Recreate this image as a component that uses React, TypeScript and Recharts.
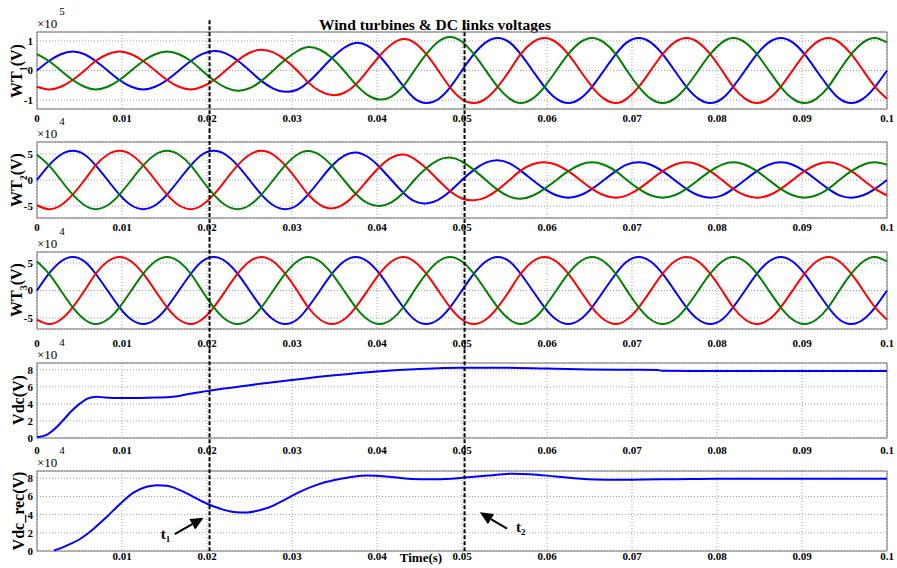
import React from 'react';
import { LineChart, Line, XAxis, YAxis, CartesianGrid, ReferenceLine, ReferenceArea } from 'recharts';

// time base for the three-phase turbine voltages (s)
const time = [
  0, 0.0014, 0.0028, 0.0042, 0.0056, 0.0069, 0.0083, 0.0097, 0.0111, 0.0125, 0.0139, 0.0153,
  0.0167, 0.0181, 0.0194, 0.0208, 0.0222, 0.0236, 0.025, 0.0264, 0.0278, 0.0292, 0.0306, 0.0319,
  0.0333, 0.0347, 0.0361, 0.0375, 0.0389, 0.0403, 0.0417, 0.0431, 0.0444, 0.0458, 0.0472, 0.0486,
  0.05, 0.0514, 0.0528, 0.0542, 0.0556, 0.0569, 0.0583, 0.0597, 0.0611, 0.0625, 0.0639, 0.0653,
  0.0667, 0.0681, 0.0694, 0.0708, 0.0722, 0.0736, 0.075, 0.0764, 0.0778, 0.0792, 0.0806, 0.0819,
  0.0833, 0.0847, 0.0861, 0.0875, 0.0889, 0.0903, 0.0917, 0.0931, 0.0944, 0.0958, 0.0972, 0.0986,
  0.1,
];

// WT1 (x1e5 V)
const wt1A = [
  0, 0.32, 0.55, 0.64, 0.55, 0.32, 0, -0.32, -0.55, -0.64, -0.55, -0.32,
  0, 0.32, 0.55, 0.66, 0.58, 0.34, 0, -0.35, -0.61, -0.72, -0.65, -0.4,
  0, 0.42, 0.76, 0.93, 0.83, 0.49, 0, -0.53, -0.94, -1.1, -0.97, -0.57,
  0, 0.55, 0.95, 1.1, 0.95, 0.55, 0, -0.55, -0.95, -1.1, -0.95, -0.55,
  0, 0.55, 0.95, 1.1, 0.95, 0.55, 0, -0.55, -0.95, -1.1, -0.95, -0.55,
  0, 0.55, 0.95, 1.1, 0.95, 0.55, 0, -0.55, -0.95, -1.1, -0.95, -0.55,
  0,
];
const wt1B = [
  -0.55, -0.64, -0.55, -0.32, 0, 0.32, 0.55, 0.64, 0.55, 0.32, 0, -0.32,
  -0.55, -0.64, -0.55, -0.33, 0, 0.34, 0.6, 0.7, 0.61, 0.36, 0, -0.4,
  -0.7, -0.83, -0.76, -0.47, 0, 0.49, 0.88, 1.06, 0.94, 0.55, 0, -0.57,
  -0.97, -1.1, -0.95, -0.55, 0, 0.55, 0.95, 1.1, 0.95, 0.55, 0, -0.55,
  -0.95, -1.1, -0.95, -0.55, 0, 0.55, 0.95, 1.1, 0.95, 0.55, 0, -0.55,
  -0.95, -1.1, -0.95, -0.55, 0, 0.55, 0.95, 1.1, 0.95, 0.55, 0, -0.55,
  -0.95,
];
const wt1C = [
  0.55, 0.32, 0, -0.32, -0.55, -0.64, -0.55, -0.32, 0, 0.32, 0.55, 0.64,
  0.55, 0.32, 0, -0.33, -0.58, -0.68, -0.6, -0.35, 0, 0.36, 0.65, 0.79,
  0.7, 0.42, 0, -0.47, -0.83, -0.98, -0.88, -0.53, 0, 0.55, 0.97, 1.13,
  0.97, 0.55, 0, -0.55, -0.95, -1.1, -0.95, -0.55, 0, 0.55, 0.95, 1.1,
  0.95, 0.55, 0, -0.55, -0.95, -1.1, -0.95, -0.55, 0, 0.55, 0.95, 1.1,
  0.95, 0.55, 0, -0.55, -0.95, -1.1, -0.95, -0.55, 0, 0.55, 0.95, 1.1,
  0.95,
];

// WT2 (x1e4 V)
const wt2A = [
  0, 2.8, 4.85, 5.6, 4.85, 2.8, 0, -2.8, -4.85, -5.6, -4.85, -2.8,
  0, 2.8, 4.85, 5.6, 4.85, 2.8, 0, -2.8, -4.85, -5.6, -4.85, -2.78,
  0, 2.73, 4.63, 5.3, 4.46, 2.5, 0, -2.45, -4.07, -4.5, -3.81, -2.15,
  0, 1.95, 3.33, 3.8, 3.2, 1.8, 0, -1.7, -2.94, -3.4, -2.94, -1.7,
  0, 1.7, 2.94, 3.4, 2.94, 1.7, 0, -1.7, -2.94, -3.4, -2.94, -1.7,
  0, 1.7, 2.94, 3.4, 2.94, 1.7, 0, -1.7, -2.94, -3.4, -2.94, -1.7,
  0,
];
const wt2B = [
  -4.85, -5.6, -4.85, -2.8, 0, 2.8, 4.85, 5.6, 4.85, 2.8, 0, -2.8,
  -4.85, -5.6, -4.85, -2.8, 0, 2.8, 4.85, 5.6, 4.85, 2.8, 0, -2.78,
  -4.76, -5.45, -4.63, -2.65, 0, 2.5, 4.29, 4.9, 4.07, 2.25, 0, -2.15,
  -3.55, -3.9, -3.33, -1.9, 0, 1.8, 3.03, 3.4, 2.94, 1.7, 0, -1.7,
  -2.94, -3.4, -2.94, -1.7, 0, 1.7, 2.94, 3.4, 2.94, 1.7, 0, -1.7,
  -2.94, -3.4, -2.94, -1.7, 0, 1.7, 2.94, 3.4, 2.94, 1.7, 0, -1.7,
  -2.94,
];
const wt2C = [
  4.85, 2.8, 0, -2.8, -4.85, -5.6, -4.85, -2.8, 0, 2.8, 4.85, 5.6,
  4.85, 2.8, 0, -2.8, -4.85, -5.6, -4.85, -2.8, 0, 2.8, 4.85, 5.55,
  4.76, 2.73, 0, -2.65, -4.46, -5.0, -4.29, -2.45, 0, 2.25, 3.81, 4.3,
  3.55, 1.95, 0, -1.9, -3.2, -3.6, -3.03, -1.7, 0, 1.7, 2.94, 3.4,
  2.94, 1.7, 0, -1.7, -2.94, -3.4, -2.94, -1.7, 0, 1.7, 2.94, 3.4,
  2.94, 1.7, 0, -1.7, -2.94, -3.4, -2.94, -1.7, 0, 1.7, 2.94, 3.4,
  2.94,
];

// WT3 (x1e4 V)
const wt3A = [
  0, 3.05, 5.28, 6.1, 5.28, 3.05, 0, -3.05, -5.28, -6.1, -5.28, -3.05,
  0, 3.05, 5.28, 6.1, 5.28, 3.05, 0, -3.05, -5.28, -6.1, -5.28, -3.05,
  0, 3.05, 5.28, 6.1, 5.28, 3.05, 0, -3.05, -5.28, -6.1, -5.28, -3.05,
  0, 3.05, 5.28, 6.1, 5.28, 3.05, 0, -3.05, -5.28, -6.1, -5.28, -3.05,
  0, 3.05, 5.28, 6.1, 5.28, 3.05, 0, -3.05, -5.28, -6.1, -5.28, -3.05,
  0, 3.05, 5.28, 6.1, 5.28, 3.05, 0, -3.05, -5.28, -6.1, -5.28, -3.05,
  0,
];
const wt3B = [
  -5.28, -6.1, -5.28, -3.05, 0, 3.05, 5.28, 6.1, 5.28, 3.05, 0, -3.05,
  -5.28, -6.1, -5.28, -3.05, 0, 3.05, 5.28, 6.1, 5.28, 3.05, 0, -3.05,
  -5.28, -6.1, -5.28, -3.05, 0, 3.05, 5.28, 6.1, 5.28, 3.05, 0, -3.05,
  -5.28, -6.1, -5.28, -3.05, 0, 3.05, 5.28, 6.1, 5.28, 3.05, 0, -3.05,
  -5.28, -6.1, -5.28, -3.05, 0, 3.05, 5.28, 6.1, 5.28, 3.05, 0, -3.05,
  -5.28, -6.1, -5.28, -3.05, 0, 3.05, 5.28, 6.1, 5.28, 3.05, 0, -3.05,
  -5.28,
];
const wt3C = [
  5.28, 3.05, 0, -3.05, -5.28, -6.1, -5.28, -3.05, 0, 3.05, 5.28, 6.1,
  5.28, 3.05, 0, -3.05, -5.28, -6.1, -5.28, -3.05, 0, 3.05, 5.28, 6.1,
  5.28, 3.05, 0, -3.05, -5.28, -6.1, -5.28, -3.05, 0, 3.05, 5.28, 6.1,
  5.28, 3.05, 0, -3.05, -5.28, -6.1, -5.28, -3.05, 0, 3.05, 5.28, 6.1,
  5.28, 3.05, 0, -3.05, -5.28, -6.1, -5.28, -3.05, 0, 3.05, 5.28, 6.1,
  5.28, 3.05, 0, -3.05, -5.28, -6.1, -5.28, -3.05, 0, 3.05, 5.28, 6.1,
  5.28,
];

// DC link voltage (x1e4 V)
const vdcTime = [
  0, 0.001, 0.002, 0.003, 0.004, 0.005, 0.006, 0.007, 0.008, 0.01, 0.012, 0.014, 0.016, 0.018, 0.02,
  0.022, 0.025, 0.03, 0.035, 0.04, 0.045, 0.05, 0.055, 0.06, 0.065, 0.07, 0.073, 0.0735, 0.08, 0.09, 0.1,
];
const vdc = [
  0.1, 0.3, 1.0, 2.0, 3.1, 4.0, 4.65, 4.85, 4.75, 4.68, 4.7, 4.75, 4.85, 5.2, 5.5,
  5.8, 6.2, 6.8, 7.35, 7.8, 8.1, 8.25, 8.25, 8.15, 8.05, 8.0, 7.98, 7.88, 7.87, 7.86, 7.86,
];

// rectifier DC voltage (x1e4 V)
const recTime = [
  0.002, 0.0035, 0.0051, 0.0066, 0.0082, 0.0098, 0.0113, 0.0129, 0.0141, 0.0153,
  0.0168, 0.0184, 0.02, 0.0215, 0.0231, 0.0247, 0.0262, 0.0278, 0.0294, 0.0309,
  0.033, 0.035, 0.037, 0.039, 0.041, 0.043, 0.045, 0.047, 0.05, 0.053,
  0.056, 0.058, 0.061, 0.064, 0.067, 0.07, 0.075, 0.08, 0.09, 0.1,
];
const vdcRec = [
  0.05, 0.6, 1.35, 2.4, 3.75, 5.2, 6.4, 7.06, 7.24, 7.17,
  6.7, 5.96, 5.2, 4.67, 4.3, 4.23, 4.49, 5.0, 5.77, 6.5,
  7.3, 7.8, 8.15, 8.3, 8.2, 8.0, 7.9, 7.9, 8.05, 8.3,
  8.5, 8.45, 8.2, 7.95, 7.85, 7.85, 7.9, 7.95, 7.95, 7.95,
];

const xTicks = [0, 0.01, 0.02, 0.03, 0.04, 0.05, 0.06, 0.07, 0.08, 0.09, 0.1];
const acTicks1 = [-1, 0, 1];
const acTicks = [-5, 0, 5];
const dcTicks = [0, 2, 4, 6, 8];

// switching instants marked by the dashed lines
const tEvent1 = 0.0203;
const tEvent2 = 0.0503;

const wt1Rows = time.map((t, i) => ({ t, a: wt1A[i], b: wt1B[i], c: wt1C[i] }));
const wt2Rows = time.map((t, i) => ({ t, a: wt2A[i], b: wt2B[i], c: wt2C[i] }));
const wt3Rows = time.map((t, i) => ({ t, a: wt3A[i], b: wt3B[i], c: wt3C[i] }));
const vdcRows = vdcTime.map((t, i) => ({ t, v: vdc[i] }));
const recRows = recTime.map((t, i) => ({ t, v: vdcRec[i] }));

const serif = '"Liberation Serif", "Times New Roman", Times, serif';
const tickStyle = { fontSize: 11, fontWeight: 'bold', fill: '#000', fontFamily: serif };

const threePhase = [
  { key: 'a', color: '#0000ff' },
  { key: 'b', color: '#ff0000' },
  { key: 'c', color: '#008000' },
];
const single = [{ key: 'v', color: '#0000ff' }];

type PanelProps = {
  top: number;
  mt: number;
  plotH: number;
  rows: any[];
  domain: [number, number];
  yTicks: number[];
  dash: [number, number];
  series: { key: string; color: string }[];
  curve: 'natural' | 'monotone';
  tickGap: number;
  hideZero?: boolean;
  children?: React.ReactNode;
};

function Panel({ top, mt, plotH, rows, domain, yTicks, dash, series, curve, tickGap, hideZero, children }: PanelProps) {
  const dashed = (x: number) => (
    <ReferenceLine
      segment={[{ x, y: dash[0] }, { x, y: dash[1] }]}
      ifOverflow="visible"
      stroke="#000"
      strokeWidth={2}
      strokeDasharray="4 2"
    />
  );
  return (
    <div style={{ position: 'absolute', left: 0, top: top - mt }}>
      <LineChart width={897} height={mt + plotH + 20} data={rows} margin={{ top: mt, right: 10, bottom: 0, left: 0 }}>
        <CartesianGrid horizontal={false} stroke="#a0a0a0" strokeDasharray="1 2" />
        <CartesianGrid vertical={false} stroke="#a0a0a0" strokeDasharray="1 2" />
        <ReferenceArea x1={0} x2={0.1} y1={domain[0]} y2={domain[1]} fill="none" stroke="#707070" strokeWidth={1} />
        <XAxis
          type="number"
          dataKey="t"
          domain={[0, 0.1]}
          ticks={xTicks}
          interval={0}
          height={20}
          axisLine={false}
          tickLine={false}
          tickSize={0}
          tickMargin={tickGap}
          tick={tickStyle}
          tickFormatter={(v: number) => (hideZero && v === 0 ? '' : String(v))}
        />
        <YAxis
          domain={domain}
          ticks={yTicks}
          interval={0}
          width={37}
          axisLine={false}
          tickLine={false}
          tickSize={0}
          tickMargin={4}
          tick={tickStyle}
        />
        {series.map((s) => (
          <Line
            key={s.key}
            type={curve}
            dataKey={s.key}
            stroke={s.color}
            strokeWidth={2}
            dot={false}
            isAnimationActive={false}
          />
        ))}
        {dashed(tEvent1)}
        {dashed(tEvent2)}
        {children}
      </LineChart>
    </div>
  );
}

// arrow with a "t" label next to its tail
const arrow = (sub: string, dx: number, dy: number) => (p: any) => {
  const { x1, y1, x2, y2 } = p;
  const ang = Math.atan2(y2 - y1, x2 - x1);
  const len = 13;
  const half = 6;
  const bx = x2 - len * Math.cos(ang);
  const by = y2 - len * Math.sin(ang);
  const nx = -Math.sin(ang) * half;
  const ny = Math.cos(ang) * half;
  return (
    <g>
      <line x1={x1} y1={y1} x2={bx} y2={by} stroke="#000" strokeWidth={2} />
      <polygon points={`${x2},${y2} ${bx + nx},${by + ny} ${bx - nx},${by - ny}`} fill="#000" />
      <text x={x1 + dx} y={y1 + dy} fontFamily={serif} fontWeight="bold" fontSize={15} fill="#000">
        t
        <tspan fontSize={9} dy={3}>{sub}</tspan>
      </text>
    </g>
  );
};

function Exp({ top, power }: { top: number; power: string }) {
  return (
    <>
      <div style={{ position: 'absolute', left: 37, top: top - 9, transform: 'translateY(-50%)', fontFamily: serif, fontSize: 13, lineHeight: 1 }}>
        ×10
      </div>
      <div style={{ position: 'absolute', left: 62, top: top - 21, transform: 'translate(-50%,-50%)', fontFamily: serif, fontSize: 11, lineHeight: 1 }}>
        {power}
      </div>
    </>
  );
}

function YTitle({ cy, children }: { cy: number; children: React.ReactNode }) {
  return (
    <div
      style={{
        position: 'absolute',
        left: 19,
        top: cy,
        transform: 'translate(-50%,-50%) rotate(-90deg)',
        fontFamily: serif,
        fontWeight: 'bold',
        fontSize: 16,
        whiteSpace: 'nowrap',
        lineHeight: 1,
      }}
    >
      {children}
    </div>
  );
}

export default function App() {
  const sub = { fontSize: 10 };
  return (
    <div style={{ position: 'absolute', left: 0, top: 0, width: 897, height: 568, overflow: 'hidden', background: '#fff' }}>
      <div style={{ position: 'absolute', left: 435, top: 25, transform: 'translate(-50%,-50%)', fontFamily: serif, fontWeight: 'bold', fontSize: 15.5, whiteSpace: 'nowrap', lineHeight: 1 }}>
        Wind turbines &amp; DC links voltages
      </div>

      <Exp top={32} power="5" />
      <Exp top={142} power="4" />
      <Exp top={252} power="4" />
      <Exp top={363} power="4" />
      <Exp top={471} power="4" />

      <Panel top={32} mt={32} plotH={77} rows={wt1Rows} domain={[-1.3, 1.3]} yTicks={acTicks1} dash={[1.7, -2.0]} series={threePhase} curve="natural" tickGap={5} />
      <Panel top={142} mt={13} plotH={76} rows={wt2Rows} domain={[-7.3, 7.3]} yTicks={acTicks} dash={[9.8, -11.2]} series={threePhase} curve="natural" tickGap={5} />
      <Panel top={252} mt={14} plotH={77} rows={wt3Rows} domain={[-7, 7]} yTicks={acTicks} dash={[9.6, -10.6]} series={threePhase} curve="natural" tickGap={10} />
      <Panel top={363} mt={14} plotH={75} rows={vdcRows} domain={[0, 8.8]} yTicks={dcTicks} dash={[10.4, -2.35]} series={single} curve="monotone" tickGap={8} />
      <Panel top={471} mt={13} plotH={80} rows={recRows} domain={[0, 8.8]} yTicks={dcTicks} dash={[10.3, 0]} series={single} curve="monotone" tickGap={1} hideZero>
        <ReferenceLine
          segment={[{ x: 0.0162, y: 1.85 }, { x: 0.0196, y: 3.65 }]}
          shape={arrow('1', -14, 5)}
        />
        <ReferenceLine
          segment={[{ x: 0.0553, y: 2.45 }, { x: 0.0521, y: 4.25 }]}
          shape={arrow('2', 9, 3)}
        />
      </Panel>

      <YTitle cy={71}>WT<sub style={sub}>1</sub>(V)</YTitle>
      <YTitle cy={180}>WT<sub style={sub}>2</sub>(V)</YTitle>
      <YTitle cy={290}>WT<sub style={sub}>3</sub>(V)</YTitle>
      <YTitle cy={400}>Vdc(V)</YTitle>
      <YTitle cy={511}>Vdc_rec(V)</YTitle>

      <div style={{ position: 'absolute', left: 421, top: 557, transform: 'translate(-50%,-50%)', fontFamily: serif, fontWeight: 'bold', fontSize: 13, whiteSpace: 'nowrap', lineHeight: 1 }}>
        Time(s)
      </div>
    </div>
  );
}
